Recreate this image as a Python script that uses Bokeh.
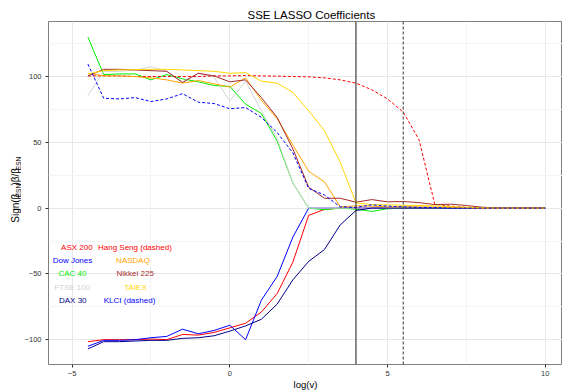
import math
from bokeh.plotting import figure
from bokeh.layouts import row
from bokeh.models import FixedTicker, Span, ColumnDataSource, Range1d
from bokeh.core.properties import value
from bokeh.embed import file_html
from bokeh.resources import INLINE

FONT = "Liberation Sans"

log_v = [-4.5, -4.0, -3.5, -3.0, -2.5, -2.0, -1.5, -1.0, -0.5, 0.0,
         0.5, 1.0, 1.5, 2.0, 2.5, 3.0, 3.5, 4.0, 4.5, 5.0,
         5.5, 6.0, 6.5, 7.0, 7.5, 8.0, 8.5, 9.0, 9.5, 10.0]

asx200 = [-101.5, -100, -100, -100, -99.5, -100, -96, -96.5, -94.5, -91,
          -87.5, -79, -65, -41, -5.5, -1, 0, 0, 0, 0,
          0, 0, 0, 0, 0, 0, 0, 0, 0, 0]
dow_jones = [-105, -100.5, -100.5, -100, -98.5, -97.5, -92, -95.5, -93, -89,
             -100, -70, -52, -22, 0, 0, 0, 0, 0, 0,
             0, 0, 0, 0, 0, 0, 0, 0, 0, 0]
cac40 = [130, 101.5, 102, 102, 97.5, 101.5, 98.3, 96, 93.2, 92.5,
         79, 72, 51, 19, 0, -1.2, 0, -0.8, -2.5, -0.5,
         0, 0, 0, 0, 0, 0, 0, 0, 0, 0]
ftse100 = [85.5, 104, 104, 105, 107.5, 104, 96, 102.5, 99.5, 81.5,
           96.5, 74, 53, 19, 0, 0, 0, 0, 0, 0,
           0, 0, 0, 0, 0, 0, 0, 0, 0, 0]
dax30 = [-107, -101.5, -101.5, -101, -100.5, -100.5, -99, -98.5, -97, -93.5,
         -89.5, -84.5, -73, -54.5, -40.5, -31.5, -12.8, -1.8, 0, 0,
         0, 0, 0, 0, 0, 0, 0, 0, 0, 0]
hang_seng = [100.5, 100.5, 100.5, 100, 100, 100, 100, 100, 100.5, 100.5,
             100.8, 100.5, 100.3, 100, 99.8, 99, 97.5, 95, 90, 83,
             73, 52, 3, 1.5, 0.5, 0, 0, 0, 0, 0]
nasdaq = [102.5, 100.5, 100.5, 100, 99, 97.5, 95, 97, 94.5, 92,
          99, 82, 68, 48, 28, 20, 1, 1.7, 1.5, 1,
          1, 1, 0.8, 0.5, 0.3, 0, 0, 0, 0, 0]
nikkei225 = [100.5, 105.5, 105.5, 105, 104.5, 104, 95.5, 102.5, 100.5, 96,
             97.5, 84, 69, 45, 16, 7.5, 7.5, 4.5, 6.5, 4.8,
             5, 4.2, 2.7, 3, 2, 0.7, 0, 0, 0, 0]
taiex = [102, 104.5, 105, 105.3, 105.5, 105.5, 105, 104.5, 104, 102.5,
         103, 96.5, 95, 88, 74, 59, 35, 4, 2.7, 2.5,
         2.2, 2, 1.7, 1.2, 0.7, 0.3, 0, 0, 0, 0]
klci = [109.5, 83.5, 83, 84, 81, 83, 87, 80.5, 79.5, 75.5,
        76.5, 69, 57.5, 42, 15, 10, 1, 0.5, 2.5, 1.5,
        1, 0.5, 0.5, 0, 0, 0, 0, 0, 0, 0]

series_names = ["ASX 200", "Dow Jones", "CAC 40", "FTSE 100", "DAX 30",
                "Hang Seng", "NASDAQ", "Nikkei 225", "TAIEX", "KLCI"]
series_values = [asx200, dow_jones, cac40, ftse100, dax30,
                 hang_seng, nasdaq, nikkei225, taiex, klci]
series_colors = ["#FF0000", "#0000FF", "#00EE00", "#D3D3D3", "#00008B",
                 "#FF0000", "#FFA500", "#A52A2A", "#FFD700", "#0000FF"]
series_dashed = [False, False, False, False, False,
                 True, False, False, False, True]

legend_text = ["ASX 200", "Hang Seng (dashed)", "Dow Jones", "NASDAQ",
               "CAC 40", "Nikkei 225", "FTSE 100", "TAIEX",
               "DAX 30", "KLCI (dashed)"]
legend_x = [-4.85, -3.01, -4.99, -3.07, -4.99, -3.0, -5.0, -2.99, -4.98, -3.18]
legend_y = [-30, -30, -40, -40, -50, -50, -60, -60, -70, -70]
legend_colors = ["#FF0000", "#FF0000", "#0000FF", "#FFA500", "#00EE00",
                 "#A52A2A", "#D3D3D3", "#FFD700", "#00008B", "#0000FF"]

x_ticks = [-5, 0, 5, 10]
x_minor = [-2.5, 2.5, 7.5]
y_ticks = [-100, -50, 0, 50, 100]
y_minor = [-75, -25, 25, 75, 125]

vline_solid = 4.0
vline_dashed = 5.5

title_text = "SSE LASSO Coefficients"
xlabel_text = "log(v)"
ylabel_parts = ["Sign(\u03b2", "ESN", ")\u03b2/\u03b2", "ESN"]

LAB_W = 21

# --- side strip holding the y-axis title (with subscripts) ---
lab = figure(width=LAB_W, height=392, output_backend="svg", toolbar_location=None,
             x_range=Range1d(0, LAB_W), y_range=Range1d(392, 0),
             min_border=0, x_axis_type=None, y_axis_type=None)
lab.outline_line_color = None
lab.grid.visible = False
lab.background_fill_color = "white"
lab.border_fill_color = "white"
lab_src = ColumnDataSource(dict(
    x=[15, 17.8, 15, 17.8], y=[230, 200.9, 187.5, 169.9],
    t=ylabel_parts, fs=["10px", "6.5px", "10px", "6.5px"]))
lab.text("x", "y", text="t", source=lab_src, angle=math.pi / 2,
         text_font=value(FONT), text_font_size="fs", text_color="black",
         text_align="left", text_baseline="alphabetic")

# --- main plot ---
p = figure(width=562 - LAB_W, height=392, output_backend="svg", toolbar_location=None,
           x_range=(-5.75, 10.55), y_range=(-118.85, 141.85),
           min_border_left=48 - LAB_W, min_border_right=0, min_border_top=21,
           min_border_bottom=26)
p.background_fill_color = "white"
p.border_fill_color = "white"
p.outline_line_color = "#7f7f7f"
p.outline_line_width = 1

p.title.text = title_text
p.title.text_font = FONT
p.title.text_font_size = "11.5px"
p.title.text_font_style = "normal"
p.title.text_color = "black"
p.title.align = "left"
p.title.offset = 199
p.title.standoff = 1

for ax, ticks, minor in ((p.xaxis, x_ticks, x_minor), (p.yaxis, y_ticks, y_minor)):
    ax.ticker = FixedTicker(ticks=ticks, minor_ticks=minor)
    ax.axis_line_color = None
    ax.major_tick_line_color = "#333333"
    ax.major_tick_out = 3
    ax.major_tick_in = 0
    ax.minor_tick_line_color = None
    ax.major_label_text_font = FONT
    ax.major_label_text_font_size = "7.5px"
    ax.major_label_text_color = "#333333"
    ax.major_label_standoff = 3

p.xaxis.major_label_standoff = 2
p.xaxis.axis_label = xlabel_text
p.xaxis.axis_label_text_font = FONT
p.xaxis.axis_label_text_font_size = "9.5px"
p.xaxis.axis_label_text_font_style = "normal"
p.xaxis.axis_label_text_color = "black"
p.xaxis.axis_label_standoff = 0

for g in (p.xgrid, p.ygrid):
    g.grid_line_color = "#e8e8e8"
    g.grid_line_width = 1
    g.minor_grid_line_color = "#f4f4f4"
    g.minor_grid_line_width = 1

for name, vals, col, dashed in zip(series_names, series_values, series_colors, series_dashed):
    src = ColumnDataSource(dict(x=log_v, y=vals))
    p.line("x", "y", source=src, line_color=col, line_width=1,
           line_dash="3 2" if dashed else "solid")

lsrc = ColumnDataSource(dict(x=legend_x, y=legend_y, t=legend_text, c=legend_colors))
p.text("x", "y", text="t", text_color="c", source=lsrc, text_font=value(FONT),
       text_font_size="8px", text_align="center", text_baseline="middle")

p.add_layout(Span(location=vline_solid, dimension="height", line_color="#1a1a1a", line_width=1))
p.add_layout(Span(location=vline_dashed, dimension="height", line_color="#555555",
                  line_width=1.2, line_dash="3 2"))

layout = row(lab, p, spacing=0)
open("out.html", "w").write(file_html(layout, INLINE))
